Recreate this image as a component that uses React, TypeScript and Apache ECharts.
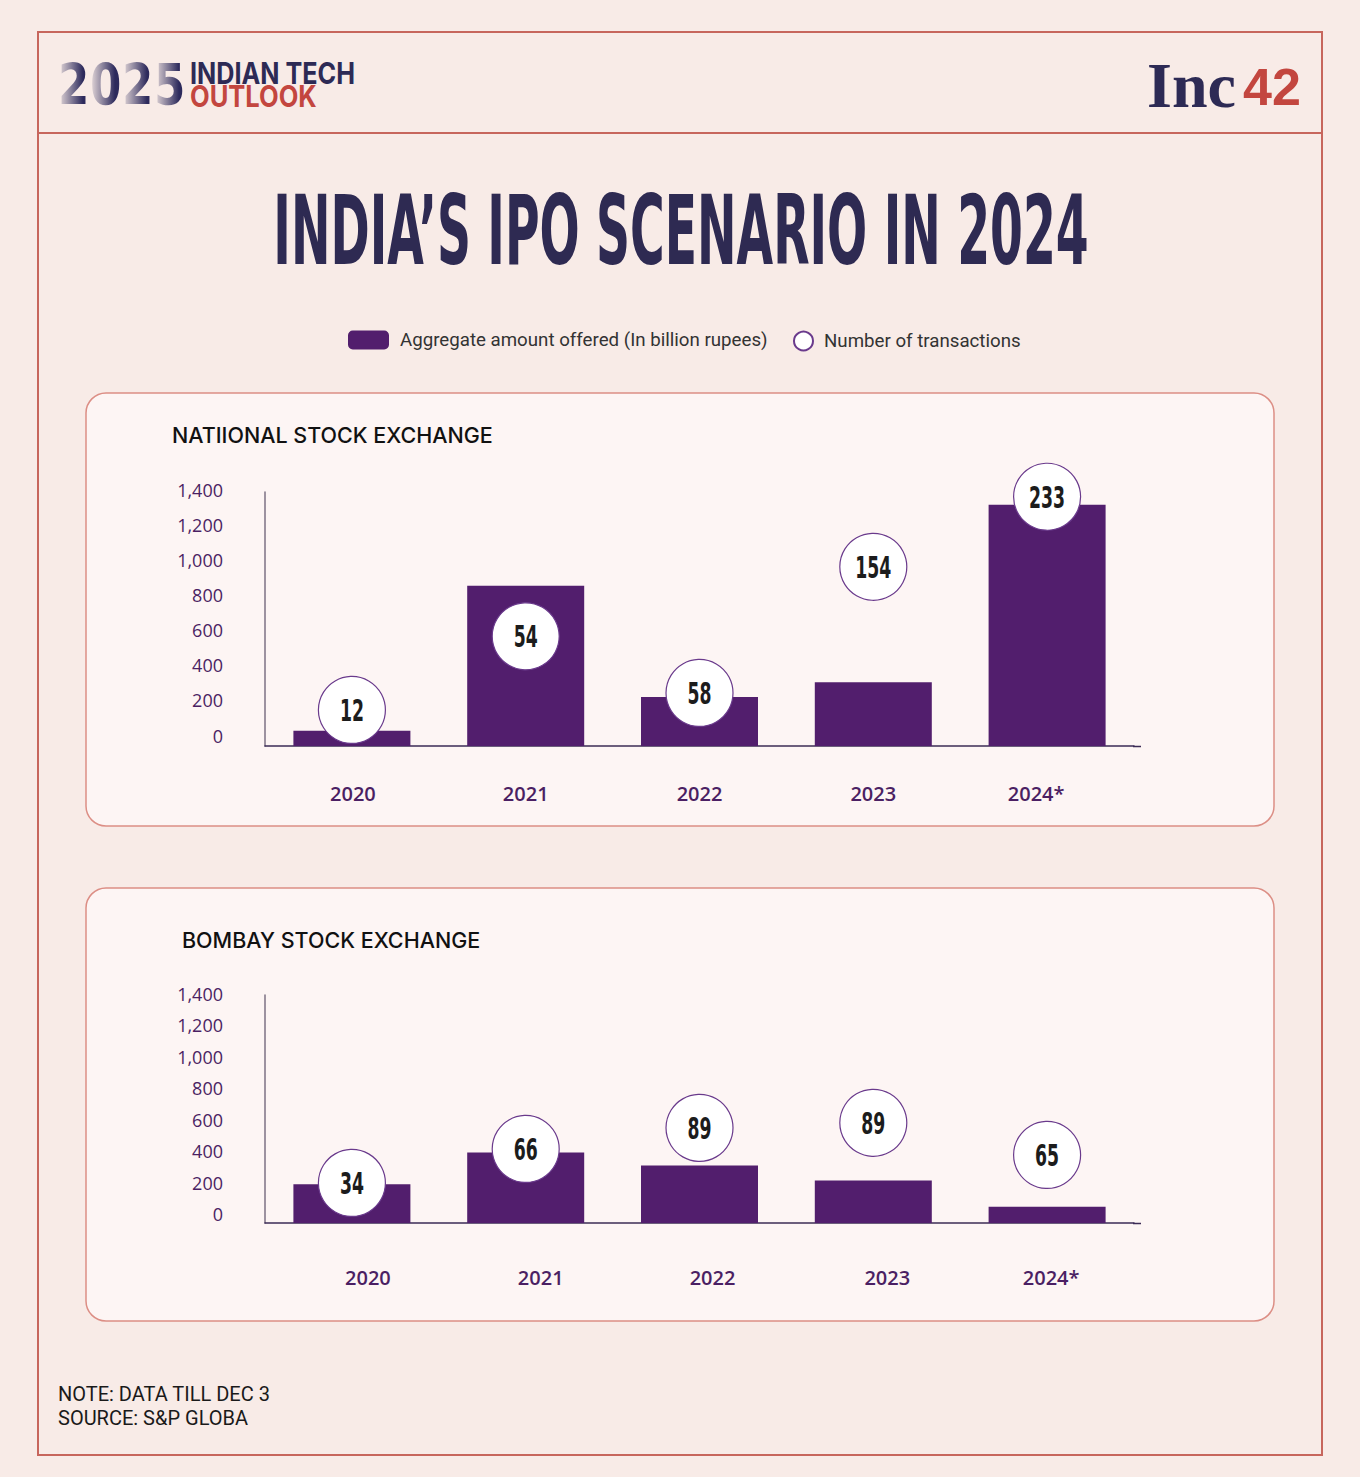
import React, { useEffect, useRef } from "react";
import * as echarts from "echarts";

const categories = ["2020", "2021", "2022", "2023", "2024*"];
const nseAmount = [87, 915, 280, 364, 1377];
const nseTransactions = [12, 54, 58, 154, 233];
const nseBubbleLevel = [206, 626, 303, 1023, 1423];
const bseAmount = [246, 448, 366, 270, 103];
const bseTransactions = [34, 66, 89, 89, 65];
const bseBubbleLevel = [255, 471, 605, 637, 433];

const AMOUNT_NAME = "Aggregate amount offered (In billion rupees)";
const COUNT_NAME = "Number of transactions";

const topLabelShift = [1, 0, 0, 0, -11];
const bottomLabelShift = [16, 15, 13, 14, 4];

const PURPLE = "#521e6d";
const AXIS_TEXT = "#4b1f63";
const NAVY = "#2d2a55";
const RED = "#c3463f";
const BG = "#f8ebe7";

function catData(shift: number[]) {
  return categories.map((c, i) => {
    const d = shift[i];
    return {
      value: c,
      textStyle: { padding: d >= 0 ? [0, 0, 0, 2 * d] : [0, -2 * d, 0, 0] },
    };
  });
}

function fmt(v: number) {
  return v.toLocaleString("en-US");
}

export default function App() {
  const ref = useRef<HTMLDivElement>(null);
  useEffect(() => {
    if (!ref.current) return;
    const chart = echarts.init(ref.current, undefined, { renderer: "svg" });

    const digits = ["2", "0", "2", "5"];
    const digitX = [58, 90, 122, 154];

    const yAxisBase = (lh: number) => ({
      type: "value",
      min: 0,
      max: 1450,
      interval: 200,
      z: 5,
      splitLine: { show: false },
      axisTick: { show: false },
      axisLine: { show: true, lineStyle: { color: "#7c7084", width: 1.5 } },
      axisLabel: {
        showMaxLabel: false,
        margin: 42,
        color: AXIS_TEXT,
        fontFamily: "'Open Sans', sans-serif",
        fontSize: 18,
        fontWeight: 500,
        verticalAlign: "bottom",
        lineHeight: lh,
        formatter: (v: number) => fmt(v),
      },
    });

    const xAxisBase = (grid: number, shift: number[], margin: number) => ({
      type: "category",
      gridIndex: grid,
      data: catData(shift),
      z: 5,
      axisTick: { show: false },
      axisLine: { lineStyle: { color: "#3b2b55", width: 1.5 } },
      axisLabel: {
        margin,
        color: AXIS_TEXT,
        fontFamily: "'Open Sans', sans-serif",
        fontSize: 20,
        fontWeight: 600,
      },
    });

    const barSeries = (idx: number, data: number[]) => ({
      type: "bar",
      name: AMOUNT_NAME,
      xAxisIndex: idx,
      yAxisIndex: idx,
      data,
      barWidth: 117,
      z: 6,
      itemStyle: { color: PURPLE },
    });

    const bubbleSeries = (idx: number, level: number[]) => ({
      type: "scatter",
      name: COUNT_NAME,
      xAxisIndex: idx,
      yAxisIndex: idx,
      data: level.map((v, i) => [i, v]),
      symbol: "circle",
      symbolSize: 67,
      clip: false,
      z: 10,
      itemStyle: { color: "#ffffff", borderColor: "#6a3a8c", borderWidth: 1.2, opacity: 1 },
      emphasis: { disabled: true },
    });

    const countLabels = (idx: number, level: number[], counts: number[]) => ({
      type: "custom",
      name: "counts" + idx,
      xAxisIndex: idx,
      yAxisIndex: idx,
      data: level.map((v, i) => [i, v, counts[i]]),
      z: 12,
      clip: false,
      silent: true,
      renderItem: (params: any, api: any) => {
        const p = api.coord([api.value(0), api.value(1)]);
        return {
          type: "text",
          x: p[0],
          y: p[1] + 1,
          scaleX: 0.64,
          style: {
            text: String(api.value(2)),
            fill: "#1c1c1c",
            font: "bold 30px 'DejaVu Sans Condensed', sans-serif",
            textAlign: "center",
            textVerticalAlign: "middle",
          },
        };
      },
    });

    const panel = (y: number) => ({
      type: "rect",
      z: -1,
      shape: { x: 86, y, width: 1188, height: 433, r: 20 },
      style: { fill: "#fdf5f4", stroke: "#dc8e85", lineWidth: 1.5 },
    });

    const legendText = {
      color: "#333333",
      fontFamily: "Roboto, sans-serif",
      fontSize: 18.7,
      padding: [0, 0, 0, 6],
    };

    const option: any = {
      animation: false,
      backgroundColor: BG,
      legend: [
        {
          data: [{ name: AMOUNT_NAME, icon: "roundRect" }],
          left: 348,
          top: 330.5,
          padding: 0,
          itemWidth: 41,
          itemHeight: 19,
          selectedMode: false,
          textStyle: legendText,
        },
        {
          data: [{ name: COUNT_NAME, icon: "circle" }],
          left: 793,
          top: 330.5,
          padding: 0,
          itemWidth: 19,
          itemHeight: 19,
          selectedMode: false,
          textStyle: legendText,
        },
      ],
      grid: [
        { left: 265, right: 1360 - 1134, top: 492, bottom: 1477 - 746 },
        { left: 265, right: 1360 - 1134, top: 995, bottom: 1477 - 1223 },
      ],
      xAxis: [xAxisBase(0, topLabelShift, 37), xAxisBase(1, bottomLabelShift, 44)],
      yAxis: [
        { ...yAxisBase(21), gridIndex: 0 },
        { ...yAxisBase(18), gridIndex: 1 },
      ],
      series: [
        barSeries(0, nseAmount),
        bubbleSeries(0, nseBubbleLevel),
        countLabels(0, nseBubbleLevel, nseTransactions),
        barSeries(1, bseAmount),
        bubbleSeries(1, bseBubbleLevel),
        countLabels(1, bseBubbleLevel, bseTransactions),
      ],
      graphic: [
        {
          type: "rect",
          z: -1,
          shape: { x: 38, y: 32, width: 1284, height: 1423 },
          style: { fill: "none", stroke: "#c7665d", lineWidth: 2 },
        },
        {
          type: "line",
          z: -1,
          shape: { x1: 38, y1: 133, x2: 1322, y2: 133 },
          style: { stroke: "#c7665d", lineWidth: 2 },
        },
        panel(393),
        panel(888),
        { type: "line", z: 4, shape: { x1: 1133, y1: 746.5, x2: 1141, y2: 746.5 }, style: { stroke: "#3b2b55", lineWidth: 1.5 } },
        { type: "line", z: 4, shape: { x1: 1133, y1: 1223.5, x2: 1141, y2: 1223.5 }, style: { stroke: "#3b2b55", lineWidth: 1.5 } },
        ...digits.map((d, i) => ({
          type: "text",
          x: digitX[i],
          y: 85,
          scaleX: 0.88,
          z: 1,
          style: {
            text: d,
            fill: "#2d2a5c",
            font: "900 57px 'DejaVu Sans Condensed', sans-serif",
            textAlign: "left",
            textVerticalAlign: "middle",
          },
        })),
        ...digits.map((d, i) => ({
          type: "rect",
          z: 2,
          shape: { x: digitX[i] - 1, y: 60, width: 26, height: 50 },
          style: {
            fill: new echarts.graphic.LinearGradient(0, 0, 1, 0, [
              { offset: 0, color: "rgba(248,235,231,0.97)" },
              { offset: 1, color: "rgba(248,235,231,0)" },
            ]),
          },
        })),
        {
          type: "text",
          x: 190,
          y: 73,
          scaleX: 0.84,
          style: {
            text: "INDIAN TECH",
            fill: NAVY,
            font: "bold 30px Inter, sans-serif",
            textAlign: "left",
            textVerticalAlign: "middle",
          },
        },
        {
          type: "text",
          x: 190,
          y: 96,
          scaleX: 0.85,
          style: {
            text: "OUTLOOK",
            fill: RED,
            font: "bold 30px Inter, sans-serif",
            textAlign: "left",
            textVerticalAlign: "middle",
          },
        },
        {
          type: "text",
          x: 1147,
          y: 85,
          style: {
            text: "Inc",
            fill: NAVY,
            font: "bold 64px 'Liberation Serif', serif",
            textAlign: "left",
            textVerticalAlign: "middle",
          },
        },
        {
          type: "text",
          x: 1243,
          y: 87,
          style: {
            text: "42",
            fill: RED,
            font: "bold 52px 'Liberation Sans', sans-serif",
            textAlign: "left",
            textVerticalAlign: "middle",
          },
        },
        {
          type: "text",
          x: 681,
          y: 231,
          scaleX: 0.547,
          style: {
            text: "INDIA’S IPO SCENARIO IN 2024",
            fill: "#2e2a52",
            font: "bold 96px 'DejaVu Sans Condensed', sans-serif",
            textAlign: "center",
            textVerticalAlign: "middle",
          },
        },
        {
          type: "text",
          x: 172,
          y: 435,
          style: {
            text: "NATIIONAL STOCK EXCHANGE",
            fill: "#111111",
            font: "500 21.5px Inter, sans-serif",
            textAlign: "left",
            textVerticalAlign: "middle",
          },
        },
        {
          type: "text",
          x: 182,
          y: 940,
          style: {
            text: "BOMBAY STOCK EXCHANGE",
            fill: "#111111",
            font: "500 21.5px Inter, sans-serif",
            textAlign: "left",
            textVerticalAlign: "middle",
          },
        },
        {
          type: "text",
          x: 58,
          y: 1394,
          style: {
            text: "NOTE: DATA TILL DEC 3",
            fill: "#1a1a1a",
            font: "20px Roboto, sans-serif",
            textAlign: "left",
            textVerticalAlign: "middle",
          },
        },
        {
          type: "text",
          x: 58,
          y: 1418,
          style: {
            text: "SOURCE: S&P GLOBA",
            fill: "#1a1a1a",
            font: "20px Roboto, sans-serif",
            textAlign: "left",
            textVerticalAlign: "middle",
          },
        },
      ],
    };

    chart.setOption(option);
    return () => chart.dispose();
  }, []);

  return (
    <div
      ref={ref}
      style={{ position: "absolute", left: 0, top: 0, width: 1360, height: 1477 }}
    />
  );
}
